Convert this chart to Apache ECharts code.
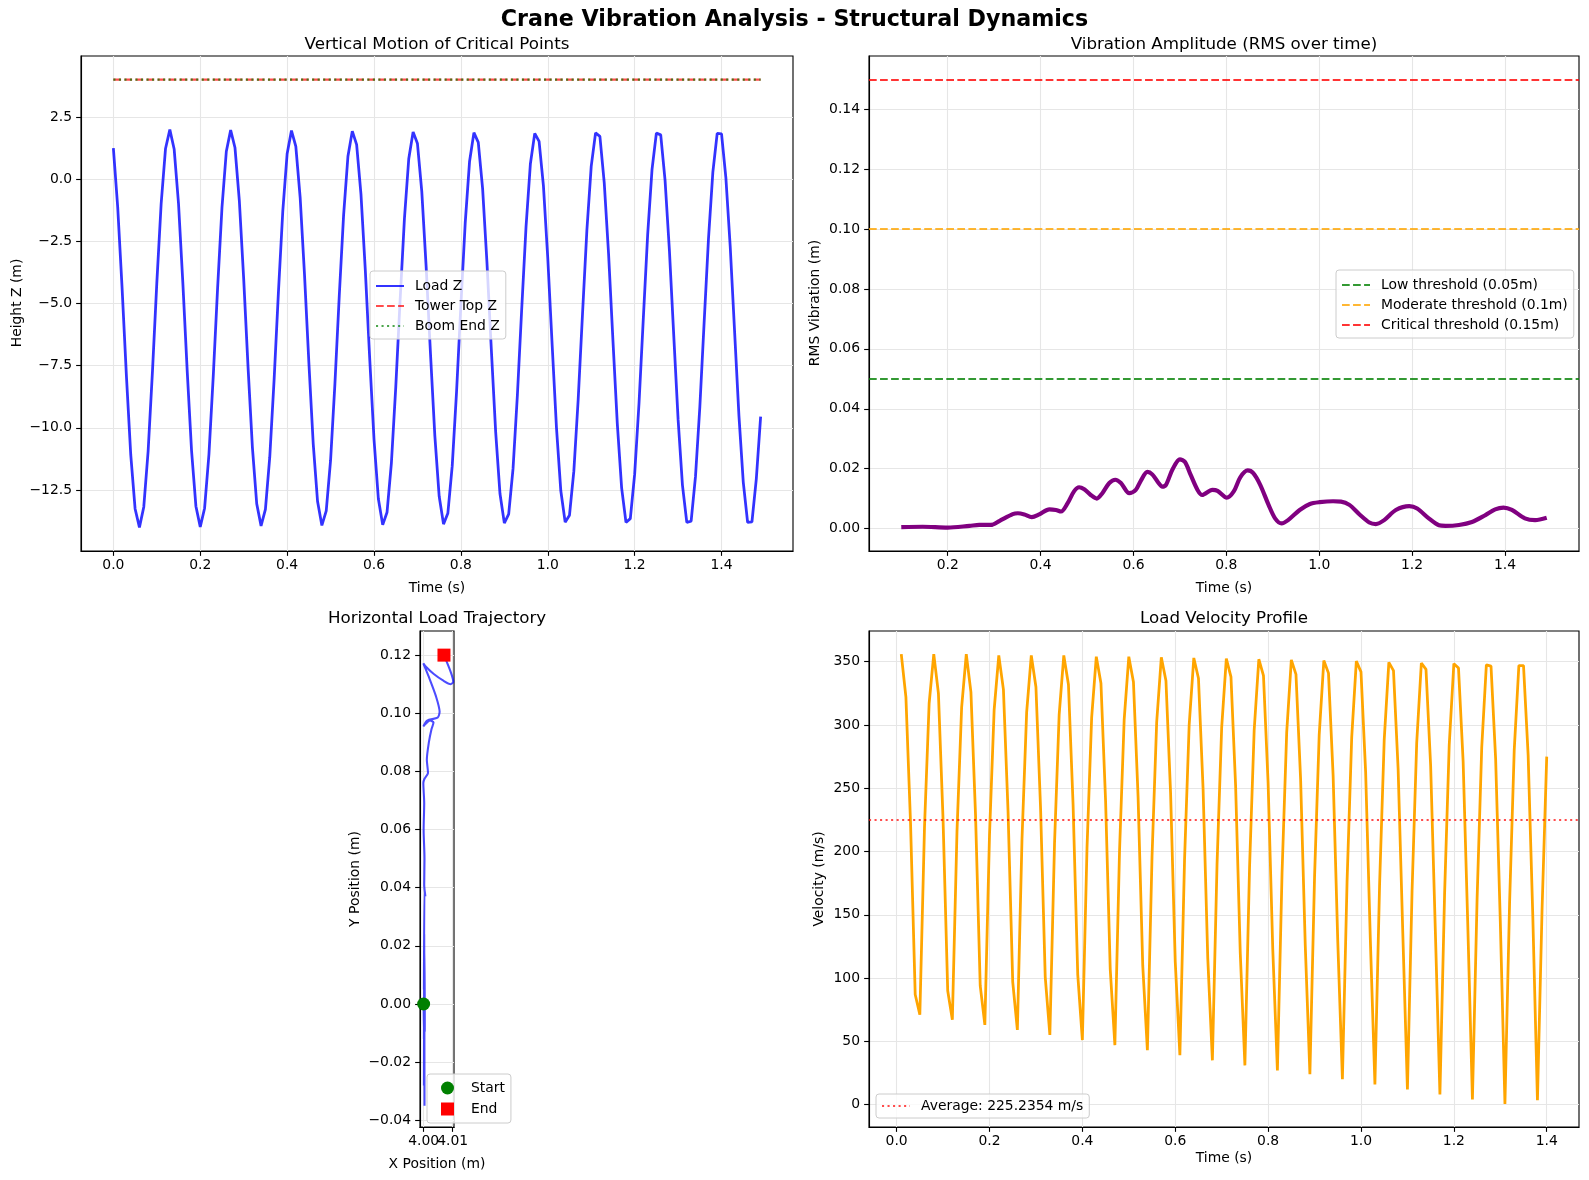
<!DOCTYPE html>
<html><head><meta charset="utf-8">
<script src="https://cdn.jsdelivr.net/npm/echarts@6.0.0/dist/echarts.min.js"></script>
<style>html,body{margin:0;padding:0;background:#fff}#c{width:1589px;height:1180px}</style>
</head><body><div id="c"></div>
<script>
// ---------- DATA ----------
const loadDt = 0.01;
const loadZ = [
 1.25,-1.13,-4.35,-7.90,-11.08,-13.25,-14.00,-13.18,-10.94,-7.73,
 -4.18,-0.99,1.22,1.99,1.20,-0.99,-4.19,-7.72,-10.92,-13.15,
 -13.98,-13.23,-11.07,-7.90,-4.36,-1.15,1.11,1.97,1.26,-0.87,
 -4.01,-7.55,-10.77,-13.05,-13.94,-13.28,-11.18,-8.07,-4.53,-1.29,
 1.02,1.95,1.32,-0.74,-3.84,-7.36,-10.62,-12.95,-13.92,-13.34,
 -11.31,-8.23,-4.70,-1.45,0.92,1.93,1.39,-0.61,-3.67,-7.18,
 -10.46,-12.85,-13.90,-13.39,-11.42,-8.38,-4.89,-1.60,0.82,1.90,
 1.43,-0.50,-3.52,-7.01,-10.31,-12.75,-13.87,-13.43,-11.54,-8.55,
 -5.06,-1.75,0.72,1.87,1.48,-0.38,-3.35,-6.83,-10.15,-12.65,
 -13.83,-13.47,-11.65,-8.70,-5.22,-1.90,0.62,1.84,1.52,-0.27,
 -3.18,-6.64,-9.99,-12.53,-13.79,-13.51,-11.74,-8.86,-5.40,-2.06,
 0.51,1.86,1.72,-0.15,-3.02,-6.48,-9.82,-12.41,-13.80,-13.65,
 -11.86,-9.02,-5.58,-2.21,0.39,1.85,1.78,-0.05,-2.87,-6.29,
 -9.66,-12.30,-13.80,-13.75,-11.96,-9.17,-5.74,-2.38,0.28,1.84,
 1.82,0.05,-2.72,-6.11,-9.50,-12.18,-13.80,-13.78,-12.06,-9.55
];
const towerTopZ = 4.0;
const boomEndZ = 4.0;

const rmsTime = [0.10,0.146,0.20,0.247,0.268,0.293,0.311,0.340,0.351,0.365,0.381,0.397,0.419,0.433,0.444,
 0.458,0.472,0.483,0.494,0.508,0.521,0.533,0.548,0.561,0.573,0.591,0.605,0.616,0.630,0.641,
 0.654,0.662,0.670,0.684,0.700,0.711,0.723,0.738,0.748,0.770,0.781,0.801,0.816,0.830,0.846,
 0.858,0.873,0.891,0.905,0.919,0.933,0.958,0.980,1.001,1.030,1.047,1.065,1.087,1.108,1.122,
 1.140,1.165,1.194,1.211,1.236,1.258,1.272,1.301,1.329,1.358,1.379,1.397,1.415,1.443,1.465,1.490];
const rmsValue = [0.00045,0.0006,0.0003,0.0009,0.0012,0.0012,0.0025,0.0048,0.0051,0.0047,0.0038,0.0047,0.0064,0.0062,0.0057,
 0.0084,0.0124,0.0138,0.0131,0.0112,0.0100,0.0118,0.0152,0.0163,0.0152,0.0118,0.0129,0.0160,0.0189,0.0180,
 0.0152,0.0140,0.0146,0.0197,0.0231,0.0222,0.0180,0.0129,0.0112,0.0129,0.0126,0.0103,0.0124,0.0171,0.0194,
 0.0185,0.0146,0.0079,0.0034,0.0017,0.0028,0.0062,0.0082,0.0088,0.0091,0.0090,0.0079,0.0047,0.0020,0.0015,
 0.0028,0.0062,0.0075,0.0067,0.0034,0.0011,0.0009,0.0012,0.0022,0.0045,0.0064,0.0070,0.0062,0.0034,0.0028,0.0036];
const thresholds = [0.05, 0.10, 0.15];
const thresholdNames = ['Low threshold (0.05m)','Moderate threshold (0.1m)','Critical threshold (0.15m)'];
const thresholdColors = ['rgba(0,128,0,0.8)','rgba(255,165,0,0.8)','rgba(255,0,0,0.8)'];

const trajX = [4.0000,4.0001,4.0002,4.0001,4.0002,4.0003,4.0002,4.0002,4.0004,4.0002,
 4.0001,4.0003,4.0006,4.0002,4.0003,4.0000,4.0002,3.9999,4.0003,4.0015,
 4.0011,4.0018,4.0027,4.0034,4.0022,4.0003,3.9999,4.0012,4.0048,4.0055,
 4.0042,4.0018,3.9999,4.0008,4.0035,4.0068,4.0093,4.0102,4.0094,4.0070];
const trajY = [0.0000,-0.0120,0.0180,-0.0280,0.0240,-0.0350,0.0200,-0.0100,-0.0090,0.0230,
 0.0050,0.0400,0.0370,0.0410,0.0500,0.0600,0.0690,0.0760,0.0775,0.0795,
 0.0840,0.0900,0.0945,0.0968,0.0975,0.0960,0.0955,0.0975,0.0985,0.1005,
 0.1060,0.1125,0.1172,0.1160,0.1135,0.1112,0.1100,0.1108,0.1140,0.1200];
const startPoint = [4.0000, 0.0000];
const endPoint = [4.0070, 0.1200];

const velStart = 0.01, velDt = 0.01;
const velocity = [
 356,322,222,87,71,219,317,
 356,325,225,90,67,216,314,
 356,326,228,94,63,213,312,
 355,328,231,97,59,210,310,
 355,330,234,101,55,206,308,
 355,332,237,103,51,203,306,
 354,333,240,107,47,200,304,
 354,334,243,110,43,196,302,
 353.5,335,246,113,39,193,300,
 353,337,249,116,35,190,298,
 352.5,338,252,120,31,187,296,
 352,339,254,123,27,183,294,
 351.5,340,257,126,24,180,292,
 351,341,260,129,20,176,290,
 350.5,342,263,132,16,173,288,
 349.5,343,265,136,12,169,286,
 349,344,268,139,8,166,284,
 348.5,345,271,142,4,162,282,
 347.5,346.5,273,145,0.5,159,280,
 347,347,276,149,3.5,155,275
];
const avgVelocity = 225.2354;

const ticksTime = [0,0.2,0.4,0.6,0.8,1.0,1.2,1.4];
const ticksTimeRms = [0.2,0.4,0.6,0.8,1.0,1.2,1.4];
const ticksHeight = [-12.5,-10,-7.5,-5,-2.5,0,2.5];
const ticksRms = [0,0.02,0.04,0.06,0.08,0.10,0.12,0.14];
const ticksTrajX = [4.00, 4.01];
const ticksTrajY = [-0.04,-0.02,0,0.02,0.04,0.06,0.08,0.10,0.12];
const ticksVel = [0,50,100,150,200,250,300,350];

// ---------- CHART ----------
const FONT = '"DejaVu Sans", sans-serif';
const FS = 13.9;
const PT = 100/72;
function fmt(v, d){ let s = Number(v).toFixed(d); if (s.charAt(0)==='-') s = '\u2212' + s.slice(1); return s; }
function axis(grid, min, max, ticks, dec, isY){
  return {
    type:'value', gridIndex:grid, min:min, max:max,
    axisLine:{show:true, onZero:false, lineStyle:{color:'#000', width:0.8*PT}},
    axisTick:{show:true, inside:false, length:3.5*PT, customValues:ticks, lineStyle:{color:'#000', width:0.8*PT}},
    axisLabel:{customValues:ticks, hideOverlap:false, showMinLabel:true, showMaxLabel:true,
      formatter:(v)=>fmt(v,dec), color:'#000', fontSize:FS, fontFamily:FONT, margin: isY?9:7},
    splitLine:{show:true, lineStyle:{color:'#e6e6e6', width:0.8*PT}}
  };
}
const grids = [
  {left:81, top:56, width:712, height:495},
  {left:869, top:56, width:710, height:495},
  {left:420, top:631, width:34, height:496},
  {left:869, top:631, width:710, height:496}
].map(g => Object.assign({show:true, borderColor:'#000', borderWidth:0.8*PT, backgroundColor:'transparent'}, g));

// the trajectory x axis carries its two (overlapping) tick labels on two stacked axes
const xAxes = [
  axis(0, -0.0745, 1.5645, ticksTime, 1, false),
  axis(1, 0.0305, 1.5595, ticksTimeRms, 1, false),
  axis(2, 3.99875, 4.01045, ticksTrajX.slice(0,1), 2, false),
  axis(3, -0.0595, 1.4695, ticksTime, 1, false),
  Object.assign(axis(2, 3.99875, 4.01045, ticksTrajX.slice(1), 2, false), {position:'bottom', offset:0})
];
const yAxes = [
  axis(0, -14.95, 4.95, ticksHeight, 1, true),
  axis(1, -0.0075, 0.1578, ticksRms, 2, true),
  axis(2, -0.0423, 0.1283, ticksTrajY, 2, true),
  axis(3, -17.7, 374.3, ticksVel, 0, true)
];

const W15 = 1.5*PT, W2 = 2*PT, W3 = 3*PT;
const DASH = [3.7*W15, 1.6*W15], DOT = [1*W15, 1.65*W15];
const series = [];
series.push({name:'Load Z', type:'line', xAxisIndex:0, yAxisIndex:0, symbol:'none',
  data: loadZ.map((z,i)=>[i*loadDt, z]), lineStyle:{color:'rgba(0,0,255,0.8)', width:W2}, itemStyle:{color:'rgba(0,0,255,0.8)'}});
series.push({name:'Tower Top Z', type:'line', xAxisIndex:0, yAxisIndex:0, symbol:'none',
  data: loadZ.map((z,i)=>[i*loadDt, towerTopZ]), lineStyle:{color:'rgba(255,0,0,0.7)', width:W15, type:DASH}, itemStyle:{color:'rgba(255,0,0,0.7)'}});
series.push({name:'Boom End Z', type:'line', xAxisIndex:0, yAxisIndex:0, symbol:'none',
  data: loadZ.map((z,i)=>[i*loadDt, boomEndZ]), lineStyle:{color:'rgba(0,128,0,0.7)', width:W15, type:DOT}, itemStyle:{color:'rgba(0,128,0,0.7)'}});

series.push({name:'RMS', type:'line', xAxisIndex:1, yAxisIndex:1, symbol:'none', smooth:0.3,
  data: rmsTime.map((t,i)=>[t, rmsValue[i]]), lineStyle:{color:'#800080', width:W3}, itemStyle:{color:'#800080'}});
thresholds.forEach((thr, k) => {
  series.push({name:thresholdNames[k], type:'line', xAxisIndex:1, yAxisIndex:1, symbol:'none', data:[],
    lineStyle:{color:thresholdColors[k], width:W15, type:DASH}, itemStyle:{color:thresholdColors[k]},
    markLine:{silent:true, symbol:['none','none'], label:{show:false}, animation:false,
      lineStyle:{color:thresholdColors[k], width:W15, type:DASH}, data:[{yAxis:thr}]}});
});

series.push({name:'Trajectory', type:'line', xAxisIndex:2, yAxisIndex:2, symbol:'none', smooth:0.25,
  data: trajX.map((x,i)=>[x, trajY[i]]), lineStyle:{color:'rgba(0,0,255,0.7)', width:W15}});
series.push({name:'Start', type:'scatter', xAxisIndex:2, yAxisIndex:2, symbol:'circle', symbolSize:13,
  data:[startPoint], itemStyle:{color:'#008000', opacity:1}, z:5});
series.push({name:'End', type:'scatter', xAxisIndex:2, yAxisIndex:2, symbol:'rect', symbolSize:13,
  data:[endPoint], itemStyle:{color:'#ff0000', opacity:1}, z:5});

series.push({name:'Velocity', type:'line', xAxisIndex:3, yAxisIndex:3, symbol:'none',
  data: velocity.map((v,i)=>[velStart + i*velDt, v]), lineStyle:{color:'#ffa500', width:W2}, itemStyle:{color:'#ffa500'}});
const avgName = 'Average: ' + avgVelocity.toFixed(4) + ' m/s';
series.push({name:avgName, type:'line', xAxisIndex:3, yAxisIndex:3, symbol:'none', data:[],
  lineStyle:{color:'rgba(255,0,0,0.7)', width:W15, type:DOT}, itemStyle:{color:'rgba(255,0,0,0.7)'},
  markLine:{silent:true, symbol:['none','none'], label:{show:false}, animation:false,
    lineStyle:{color:'rgba(255,0,0,0.7)', width:W15, type:DOT}, data:[{yAxis:avgVelocity}]}});

function legend(names, left, top, itemW, itemH, gap, pad, textPadL, hideSymbol){
  const l = {data:names, orient:'vertical', left:left, top:top, itemWidth:itemW, itemHeight:itemH, itemGap:gap,
    padding:pad, backgroundColor:'rgba(255,255,255,0.8)', borderColor:'#cccccc', borderWidth:1, borderRadius:3,
    selectedMode:false, textStyle:{fontSize:FS, fontFamily:FONT, color:'#000', padding:[0,0,0,textPadL]}};
  if (hideSymbol) l.itemStyle = {opacity:0};
  return l;
}
const legends = [
  legend(['Load Z','Tower Top Z','Boom End Z'], 370, 271, 28, 14, 6, [8,6,6,5], 6, true),
  legend(thresholdNames, 1336, 270, 28, 14, 6, [8,6,6,5], 6, true),
  legend(['Start','End'], 427, 1074, 13, 13, 7, [7,6,7,14], 12, false),
  legend([avgName], 876, 1094, 28, 14, 6, [5,6,5,5], 6, true)
];

function txt(text, x, y, size, bold, rot){
  return {type:'text', x:x, y:y, rotation:rot||0, silent:true, z:100,
    style:{text:text, fill:'#000', font:(bold?'bold ':'')+size+'px '+FONT, align:'center', verticalAlign:'middle'}};
}
const graphics = [
  txt('Crane Vibration Analysis - Structural Dynamics', 794.5, 20, 22.2, true),
  txt('Vertical Motion of Critical Points', 437, 45, 16.7),
  txt('Vibration Amplitude (RMS over time)', 1224, 45, 16.7),
  txt('Horizontal Load Trajectory', 437, 619, 16.7),
  txt('Load Velocity Profile', 1224, 619, 16.7),
  txt('Time (s)', 437, 588, FS),
  txt('Time (s)', 1224, 588, FS),
  txt('X Position (m)', 437, 1164, FS),
  txt('Time (s)', 1224, 1158, FS),
  txt('Height Z (m)', 17, 303, FS, false, Math.PI/2),
  txt('RMS Vibration (m)', 815, 303, FS, false, Math.PI/2),
  txt('Y Position (m)', 355, 879, FS, false, Math.PI/2),
  txt('Velocity (m/s)', 819, 879, FS, false, Math.PI/2)
];

const chart = echarts.init(document.getElementById('c'), null, {renderer:'canvas'});
chart.setOption({
  animation:false, backgroundColor:'#fff',
  textStyle:{fontFamily:FONT},
  grid:grids, xAxis:xAxes, yAxis:yAxes, series:series, legend:legends, graphic:graphics
});
</script></body></html>
